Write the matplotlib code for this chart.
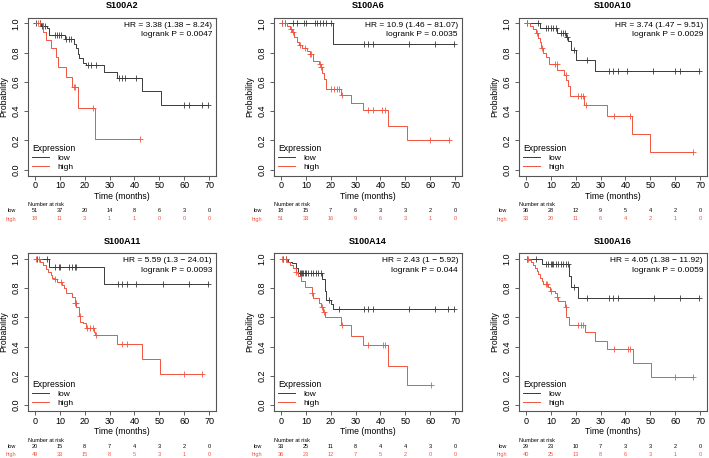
import numpy as np
import matplotlib
matplotlib.use("Agg")
import matplotlib.pyplot as plt
import matplotlib.transforms as mtransforms

plt.rcParams['font.family'] = ['Liberation Sans', 'DejaVu Sans']

# DATA
genes = ["S100A2", "S100A6", "S100A10", "S100A11", "S100A14", "S100A16"]
hr_labels = ["HR = 3.38 (1.38 \u2212 8.24)", "HR = 10.9 (1.46 \u2212 81.07)", "HR = 3.74 (1.47 \u2212 9.51)",
             "HR = 5.59 (1.3 \u2212 24.01)", "HR = 2.43 (1 \u2212 5.92)", "HR = 4.05 (1.38 \u2212 11.92)"]
p_labels = ["logrank P = 0.0047", "logrank P = 0.0035", "logrank P = 0.0029",
            "logrank P = 0.0093", "logrank P = 0.044", "logrank P = 0.0059"]
risk_times = [0, 10, 20, 30, 40, 50, 60, 70]

# S100A2
a2_low_t = [2.5, 4.7, 5.7, 11.9, 15.6, 16.5, 17.2, 17.9, 19.2, 20.5, 27.9, 33.0, 43.0, 50.5]
a2_low_s = [0.985, 0.97, 0.92, 0.89, 0.86, 0.83, 0.79, 0.76, 0.73, 0.715, 0.67, 0.625, 0.535, 0.445]
a2_low_c = [0.5, 1.9, 2.8, 3.9, 7.9, 8.9, 9.6, 10.5, 12.5, 13.6, 14.5, 21.2, 22.5, 24.5,
            33.9, 35.2, 36.3, 40.5, 59.9, 61.9, 67.2, 69.5]
a2_high_t = [3.2, 4.3, 6.6, 8.4, 9.3, 12.6, 14.8, 17.2, 24.0]
a2_high_s = [0.944, 0.889, 0.833, 0.772, 0.70, 0.63, 0.565, 0.42, 0.21]
a2_high_c = [1.2, 2.2, 15.6, 16.2, 23.5, 42.3]
a2_risk_low = [51, 37, 20, 14, 8, 6, 3, 0]
a2_risk_high = [18, 11, 3, 1, 1, 0, 0, 0]

# S100A6
a6_low_t = [20.8]
a6_low_s = [0.857]
a6_low_c = [0.5, 1.5, 5.0, 6.5, 9.2, 10.0, 13.5, 14.5, 15.8, 17.0, 18.0, 20.0,
            33.5, 35.2, 37.0, 51.5, 62.0, 69.5]
a6_high_t = [2.3, 3.5, 4.3, 5.2, 6.3, 7.2, 8.5, 10.3, 11.5, 12.9, 15.3, 16.0, 16.5, 17.3, 18.3,
             24.0, 28.3, 33.0, 43.0, 50.5]
a6_high_s = [0.98, 0.96, 0.94, 0.91, 0.87, 0.85, 0.83, 0.81, 0.79, 0.745, 0.72, 0.70, 0.66, 0.62, 0.55,
             0.51, 0.455, 0.405, 0.30, 0.20]
a6_high_c = [0.5, 1.5, 4.0, 5.0, 7.6, 9.5, 11.8, 12.2, 15.8, 16.2, 20.0, 21.3, 22.5, 23.5, 24.5,
             35.0, 37.0, 40.5, 42.0, 60.0, 67.5]
a6_risk_low = [18, 15, 7, 6, 3, 3, 2, 0]
a6_risk_high = [51, 33, 16, 9, 6, 3, 1, 0]

# S100A10
a10_low_t = [5.6, 12.6, 16.2, 17.0, 18.0, 20.2, 27.8]
a10_low_s = [0.97, 0.935, 0.91, 0.88, 0.82, 0.75, 0.675]
a10_low_c = [0.5, 5.0, 8.0, 9.0, 10.0, 11.0, 12.0, 14.0, 15.0, 15.5, 16.6, 19.5, 24.5,
             33.5, 35.0, 37.0, 40.5, 51.0, 60.0, 62.0, 69.5]
a10_high_t = [1.6, 3.0, 4.0, 5.0, 5.6, 6.2, 7.0, 8.2, 9.3, 12.6, 15.3, 16.2, 17.0, 17.8,
              23.5, 32.5, 42.5, 50.0]
a10_high_s = [0.98, 0.96, 0.935, 0.90, 0.87, 0.83, 0.80, 0.77, 0.725, 0.68, 0.645, 0.61, 0.575, 0.505,
              0.44, 0.37, 0.245, 0.12]
a10_high_c = [0.5, 4.5, 6.6, 11.5, 12.5, 16.0, 21.0, 22.0, 23.0, 24.2, 35.5, 42.0, 67.0]
a10_risk_low = [36, 28, 12, 9, 5, 4, 2, 0]
a10_risk_high = [33, 20, 11, 6, 4, 2, 1, 0]

# S100A11
a11_low_t = [5.7, 27.7]
a11_low_s = [0.947, 0.83]
a11_low_c = [1.0, 5.0, 8.0, 9.5, 10.0, 13.5, 15.0, 16.0, 16.5,
             33.5, 35.0, 37.0, 40.5, 51.5, 62.0, 69.5]
a11_high_t = [2.0, 3.3, 4.3, 5.3, 6.3, 7.0, 7.7, 9.0, 10.7, 11.6, 12.4, 14.7, 16.0, 16.7, 17.6, 18.3,
              19.3, 20.4, 23.6, 24.3, 33.0, 43.0, 50.4]
a11_high_s = [0.98, 0.96, 0.93, 0.91, 0.89, 0.87, 0.86, 0.84, 0.82, 0.80, 0.765, 0.74, 0.70, 0.67, 0.61,
              0.57, 0.56, 0.53, 0.50, 0.48, 0.42, 0.315, 0.21]
a11_high_c = [0.5, 1.5, 8.0, 10.5, 16.0, 16.4, 18.0, 21.0, 22.0, 23.2, 24.6, 35.0, 37.0, 60.0, 67.3]
a11_risk_low = [20, 15, 8, 7, 4, 3, 2, 0]
a11_risk_high = [49, 33, 15, 8, 5, 3, 1, 0]

# S100A14
a14_low_t = [3.0, 4.5, 6.0, 7.0, 16.7, 17.6, 18.3, 20.3, 21.0]
a14_low_s = [0.98, 0.97, 0.94, 0.905, 0.86, 0.78, 0.72, 0.69, 0.657]
a14_low_c = [1.0, 2.0, 7.5, 8.0, 8.5, 9.0, 9.5, 10.0, 11.0, 12.0, 13.0, 14.0, 15.0, 16.0, 19.5,
             23.5, 33.5, 35.0, 37.0, 51.5, 62.0, 67.0, 69.5]
a14_high_t = [2.3, 3.6, 5.0, 5.9, 7.0, 8.0, 9.6, 12.3, 12.9, 15.2, 16.3, 17.0, 17.6,
              24.0, 28.3, 33.0, 43.0, 50.5]
a14_high_s = [0.98, 0.96, 0.94, 0.91, 0.88, 0.85, 0.81, 0.77, 0.73, 0.70, 0.67, 0.64, 0.60,
              0.55, 0.475, 0.41, 0.27, 0.135]
a14_high_c = [0.5, 1.0, 2.0, 6.0, 12.3, 16.5, 17.2, 24.5, 35.0, 41.0, 42.0, 60.3]
a14_risk_low = [33, 25, 11, 8, 4, 4, 3, 0]
a14_risk_high = [36, 23, 12, 7, 5, 2, 0, 0]

# S100A16
a16_low_t = [6.3, 17.3, 18.0, 21.0]
a16_low_s = [0.965, 0.88, 0.81, 0.73]
a16_low_c = [0.5, 4.0, 8.0, 9.0, 10.0, 10.5, 11.0, 12.0, 13.0, 14.0, 15.0, 16.0, 17.0, 19.5,
             24.5, 33.5, 35.0, 37.0, 51.5, 62.0, 69.5]
a16_high_t = [1.3, 2.0, 3.0, 3.6, 4.3, 5.0, 5.6, 6.3, 7.0, 8.7, 9.6, 11.6, 12.3, 13.0, 15.6, 16.3, 17.2,
              23.6, 27.6, 32.7, 43.0, 50.3]
a16_high_s = [0.99, 0.98, 0.96, 0.94, 0.92, 0.895, 0.87, 0.85, 0.83, 0.81, 0.78, 0.77, 0.74, 0.71, 0.67,
              0.60, 0.55, 0.50, 0.44, 0.385, 0.29, 0.19]
a16_high_c = [0.5, 1.0, 8.0, 8.5, 10.0, 12.5, 16.0, 21.0, 22.0, 23.0, 35.5, 41.0, 42.0, 60.0, 67.3]
a16_risk_low = [29, 23, 10, 7, 3, 3, 2, 0]
a16_risk_high = [40, 25, 13, 8, 6, 3, 1, 0]

panels = [
    (a2_low_t, a2_low_s, a2_low_c, a2_high_t, a2_high_s, a2_high_c, a2_risk_low, a2_risk_high),
    (a6_low_t, a6_low_s, a6_low_c, a6_high_t, a6_high_s, a6_high_c, a6_risk_low, a6_risk_high),
    (a10_low_t, a10_low_s, a10_low_c, a10_high_t, a10_high_s, a10_high_c, a10_risk_low, a10_risk_high),
    (a11_low_t, a11_low_s, a11_low_c, a11_high_t, a11_high_s, a11_high_c, a11_risk_low, a11_risk_high),
    (a14_low_t, a14_low_s, a14_low_c, a14_high_t, a14_high_s, a14_high_c, a14_risk_low, a14_risk_high),
    (a16_low_t, a16_low_s, a16_low_c, a16_high_t, a16_high_s, a16_high_c, a16_risk_low, a16_risk_high),
]

LOW_COL = "#3a3a3a"
HIGH_COL = "#f25440"


def km_level(ts, ss, t):
    # survival value of the step curve at time t
    idx = np.searchsorted(ts, t, side="right")
    return 1.0 if idx == 0 else ss[idx - 1]


W, H = 709, 458
fig = plt.figure(figsize=(W / 100, H / 100), dpi=100)

col_left = [28, 274, 519]
row_top = [17.5, 253]
aw, ah = 188, 158

for i, gene in enumerate(genes):
    r, c = divmod(i, 3)
    lt, ls, lc, ht, hs, hc, rlow, rhigh = panels[i]
    ax = fig.add_axes([col_left[c] / W, 1 - (row_top[r] + ah) / H, aw / W, ah / H])

    for ts, ss, cs, col, lab in [(lt, ls, lc, LOW_COL, "low"), (ht, hs, hc, HIGH_COL, "high")]:
        end = max(cs[-1], ts[-1])
        ax.step(np.r_[0, ts, end], np.r_[1, ss, ss[-1]], where="post", color=col, lw=0.7, label=lab)
        cy = [km_level(ts, ss, t) for t in cs]
        ax.plot(cs, cy, ls="none", marker="+", ms=4.5, mew=0.6, color=col)

    ax.set_xlim(-2.8, 72.8)
    ax.set_ylim(-0.04, 1.04)
    ax.set_xticks(risk_times)
    ax.set_yticks([0, 0.2, 0.4, 0.6, 0.8, 1.0])
    ax.set_yticklabels(["0.0", "0.2", "0.4", "0.6", "0.8", "1.0"], rotation=90, va="center")
    ax.tick_params(axis="x", length=3, width=0.6, labelsize=6.5, pad=1, color="#444444")
    ax.tick_params(axis="y", length=3, width=0.6, labelsize=6.5, pad=2.5, color="#444444")
    for sp in ax.spines.values():
        sp.set_color("#555555")
        sp.set_linewidth(0.8)

    ax.set_title(gene, fontsize=6.5, fontweight="bold", pad=6.5)
    ax.set_xlabel("Time (months)", fontsize=6.2, va="center")
    ax.xaxis.set_label_coords(0.5, -21 / ah)
    ax.set_ylabel("Probability", fontsize=6.2, va="center")
    ax.yaxis.set_label_coords(-24 / aw, 0.5)

    ax.text(1 - 4 / aw, 1 - 8 / ah, hr_labels[i], transform=ax.transAxes, ha="right", va="center", fontsize=6)
    ax.text(1 - 4 / aw, 1 - 17 / ah, p_labels[i], transform=ax.transAxes, ha="right", va="center", fontsize=6)

    leg = ax.legend(title="Expression", loc="lower left", frameon=False, fontsize=6, title_fontsize=6.2,
                    handlelength=2.0, handletextpad=1.0, labelspacing=0.15, borderpad=0.2,
                    borderaxespad=0.3, alignment="left")

    # number at risk table
    tr = mtransforms.blended_transform_factory(ax.transData, ax.transAxes)
    ax.text(0, -29.5 / ah, "Number at risk", transform=ax.transAxes, ha="left", va="center", fontsize=4)
    ax.text(-12 / aw, -35.5 / ah, "low", transform=ax.transAxes, ha="right", va="center", fontsize=4)
    ax.text(-12 / aw, -43.5 / ah, "high", transform=ax.transAxes, ha="right", va="center", fontsize=4,
            color=HIGH_COL)
    for t, nl, nh in zip(risk_times, rlow, rhigh):
        ax.text(t, -35.5 / ah, str(nl), transform=tr, ha="center", va="center", fontsize=4)
        ax.text(t, -43.5 / ah, str(nh), transform=tr, ha="center", va="center", fontsize=4, color=HIGH_COL)

fig.savefig("out.png", dpi=100)
